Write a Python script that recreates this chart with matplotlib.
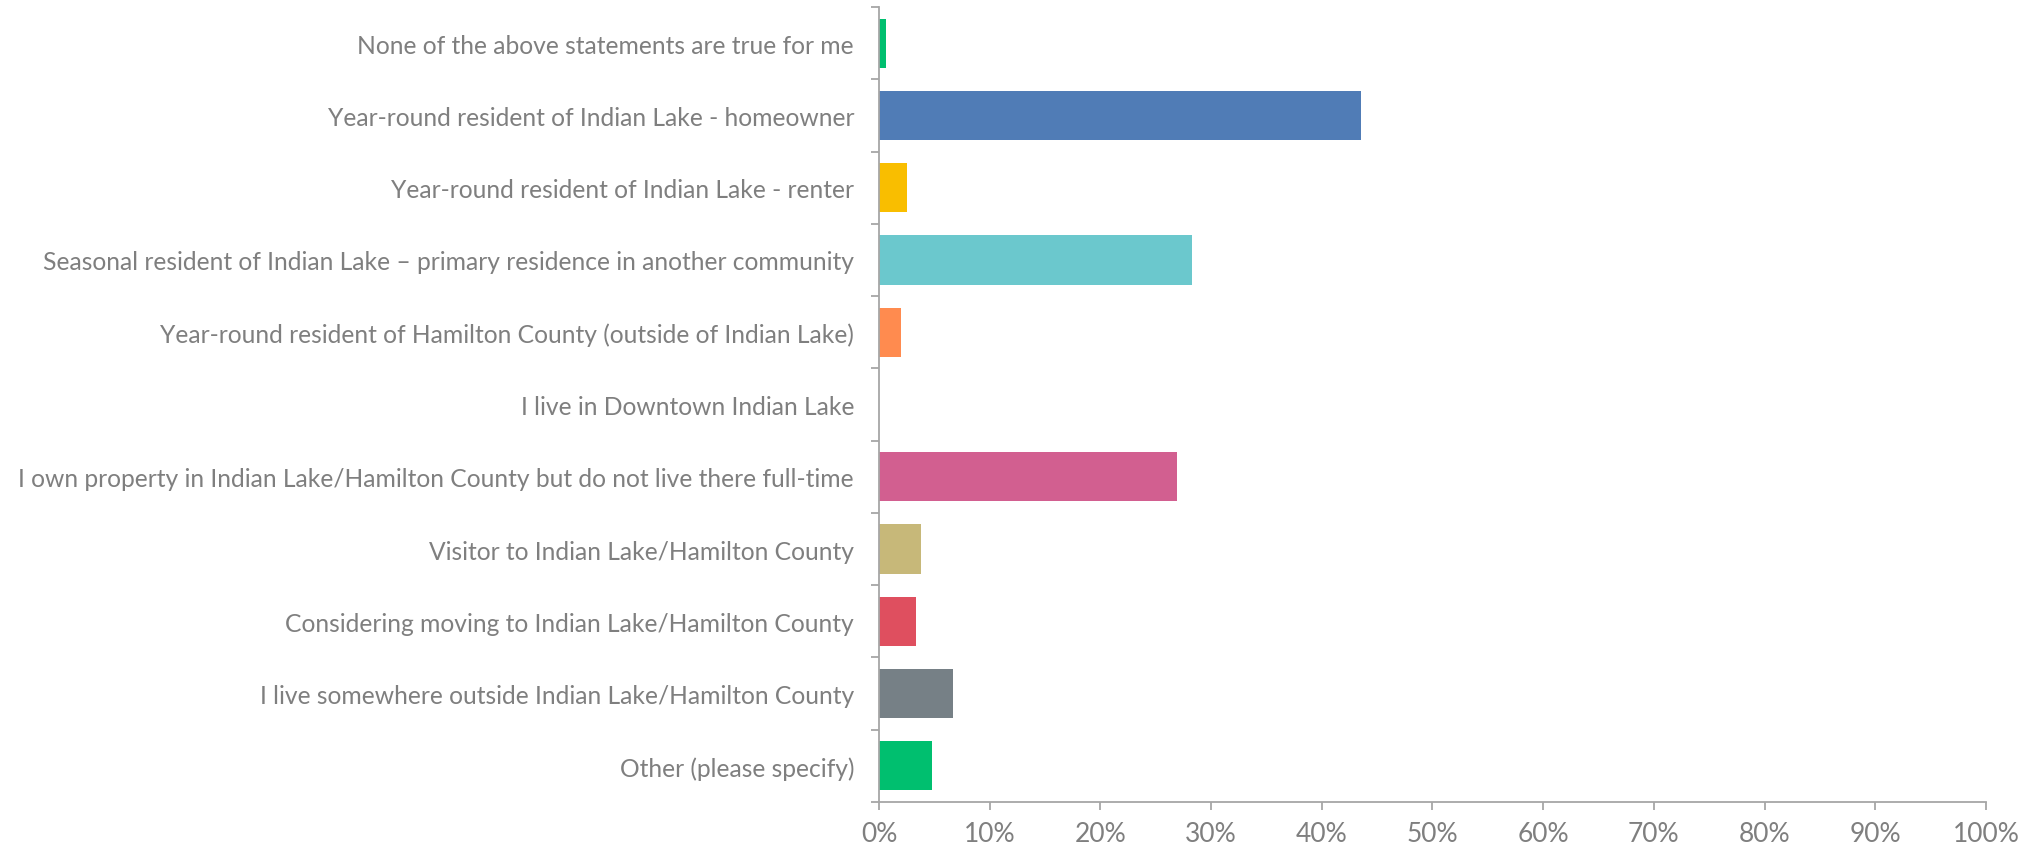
import matplotlib

matplotlib.use("Agg")
import matplotlib.pyplot as plt
from matplotlib.ticker import FixedLocator, PercentFormatter

categories = [
    "None of the above statements are true for me",
    "Year-round resident of Indian Lake - homeowner",
    "Year-round resident of Indian Lake - renter",
    "Seasonal resident of Indian Lake \u2013 primary residence in another community",
    "Year-round resident of Hamilton County (outside of Indian Lake)",
    "I live in Downtown Indian Lake",
    "I own property in Indian Lake/Hamilton County but do not live there full-time",
    "Visitor to Indian Lake/Hamilton County",
    "Considering moving to Indian Lake/Hamilton County",
    "I live somewhere outside Indian Lake/Hamilton County",
    "Other (please specify)",
]
shares = [0.6, 43.5, 2.5, 28.3, 2.0, 0.0, 26.9, 3.8, 3.3, 6.7, 4.8]
colors = ["#00BF6F", "#507CB6", "#F9BE00", "#6BC8CD", "#FF8B4F", "#7D5FA6",
          "#D25F90", "#C7B879", "#DF4F5F", "#768086", "#00BF6F"]
x_ticks = list(range(0, 101, 10))

TEXT = "#7f7f7f"
AXIS = "#a6a6a6"

plt.rcParams["font.family"] = ["Lato", "DejaVu Sans"]

fig = plt.figure(figsize=(20.39, 8.53), dpi=100)
ax = fig.add_axes([0.4311, 0.0586, 0.5429, 0.9320])

pos = list(range(len(categories)))
ax.barh(pos, shares, height=0.68, color=colors, linewidth=0)

ax.set_xlim(0, 100)
ax.set_ylim(len(categories) - 0.5, -0.5)
ax.xaxis.set_major_locator(FixedLocator(x_ticks))
ax.xaxis.set_major_formatter(PercentFormatter(decimals=0))

ax.set_yticks(pos)
ax.set_yticklabels(categories)
ax.yaxis.set_minor_locator(FixedLocator([p - 0.5 for p in pos] + [len(pos) - 0.5]))

for side in ("top", "right"):
    ax.spines[side].set_visible(False)
for side in ("left", "bottom"):
    ax.spines[side].set_color(AXIS)
    ax.spines[side].set_linewidth(1.3)

ax.tick_params(axis="y", which="major", length=0, pad=18, labelsize=17.7,
               labelcolor=TEXT)
ax.tick_params(axis="y", which="minor", length=5.5, width=1.3, color=AXIS)
ax.tick_params(axis="x", which="major", length=6, width=1.3, color=AXIS,
               pad=8, labelsize=19, labelcolor=TEXT)

fig.savefig("out.png", dpi=100)
